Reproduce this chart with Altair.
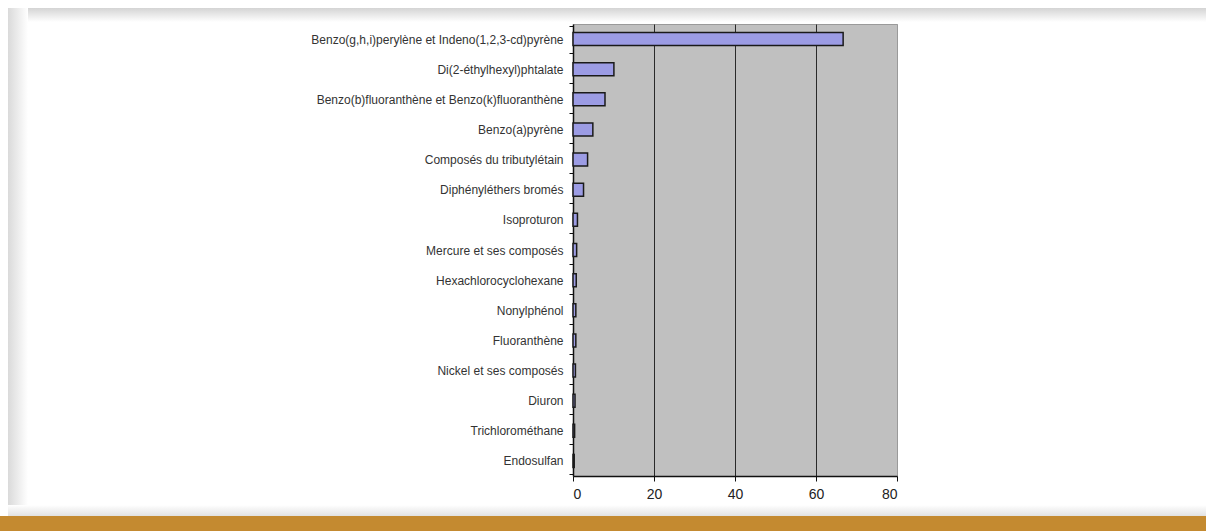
import altair as alt
import pandas as pd

categories = [
    "Benzo(g,h,i)perylène et Indeno(1,2,3-cd)pyrène",
    "Di(2-éthylhexyl)phtalate",
    "Benzo(b)fluoranthène et Benzo(k)fluoranthène",
    "Benzo(a)pyrène",
    "Composés du tributylétain",
    "Diphényléthers bromés",
    "Isoproturon",
    "Mercure et ses composés",
    "Hexachlorocyclohexane",
    "Nonylphénol",
    "Fluoranthène",
    "Nickel et ses composés",
    "Diuron",
    "Trichlorométhane",
    "Endosulfan",
]
values = [66.7, 10.1, 7.9, 4.9, 3.6, 2.6, 1.1, 0.9, 0.8, 0.7, 0.7, 0.6, 0.5, 0.4, 0.3]
x_ticks = [0, 20, 40, 60, 80]

df = pd.DataFrame({"substance": categories, "valeur": values})

FONT = "Liberation Sans"
W, H = 324, 452

bars = alt.Chart(df).mark_bar(
    fill="#9c9ce4", stroke="#1a1a1a", strokeWidth=1.5, size=13
).encode(
    x=alt.X("valeur:Q", scale=alt.Scale(domain=[0, 80], nice=False),
            axis=alt.Axis(values=x_ticks, title=None, grid=True,
                          gridColor={"condition": {"test": "datum.value == 0 || datum.value == 80", "value": "#9a9a9a"}, "value": "#2a2a2a"},
                          gridWidth=1, domainColor="#111", domainWidth=1.5,
                          tickColor="#111", tickSize=5, labelFont=FONT,
                          labelFontSize=14, labelColor="#222", labelPadding=6)),
    y=alt.Y("substance:N", sort=categories,
            axis=alt.Axis(title=None, tickBand="extent", domainColor="#111",
                          domainWidth=1.5, tickColor="#111", tickSize=4,
                          labelFont=FONT, labelFontSize=12, labelColor="#333",
                          labelPadding=6, labelLimit=400)),
)

one = alt.Data(values=[{"a": 1}])

def grad(c1, c2, horizontal=False):
    return alt.Gradient(
        gradient="linear",
        stops=[alt.GradientStop(color=c1, offset=0), alt.GradientStop(color=c2, offset=1)],
        x1=0, y1=0, x2=1 if horizontal else 0, y2=0 if horizontal else 1,
    )

top_shadow = alt.Chart(one).mark_rect(fill=grad("#d4d4d4", "#ffffff")).encode(
    x=alt.value(-565), x2=alt.value(633), y=alt.value(-16), y2=alt.value(-2))
left_shadow = alt.Chart(one).mark_rect(fill=grad("#dadada", "#ffffff", horizontal=True)).encode(
    x=alt.value(-565), x2=alt.value(-545), y=alt.value(-16), y2=alt.value(492))
bottom_shadow = alt.Chart(one).mark_rect(fill=grad("#ffffff", "#e2e2e2")).encode(
    x=alt.value(-565), x2=alt.value(633), y=alt.value(481), y2=alt.value(492))
gold = alt.Chart(one).mark_rect(fill="#c48a30").encode(
    x=alt.value(-573), x2=alt.value(633), y=alt.value(492), y2=alt.value(507))

chart = alt.layer(top_shadow, left_shadow, bottom_shadow, gold, bars).properties(
    width=W, height=H,
    autosize=alt.AutoSizeParams(type="none"),
    padding={"left": 573, "top": 24, "right": 309, "bottom": 55},
    background="#ffffff",
).configure_view(fill="#c0c0c0", stroke="#9a9a9a", strokeWidth=1)

chart.save("out.html", embed_options={"renderer": "svg", "actions": False})
